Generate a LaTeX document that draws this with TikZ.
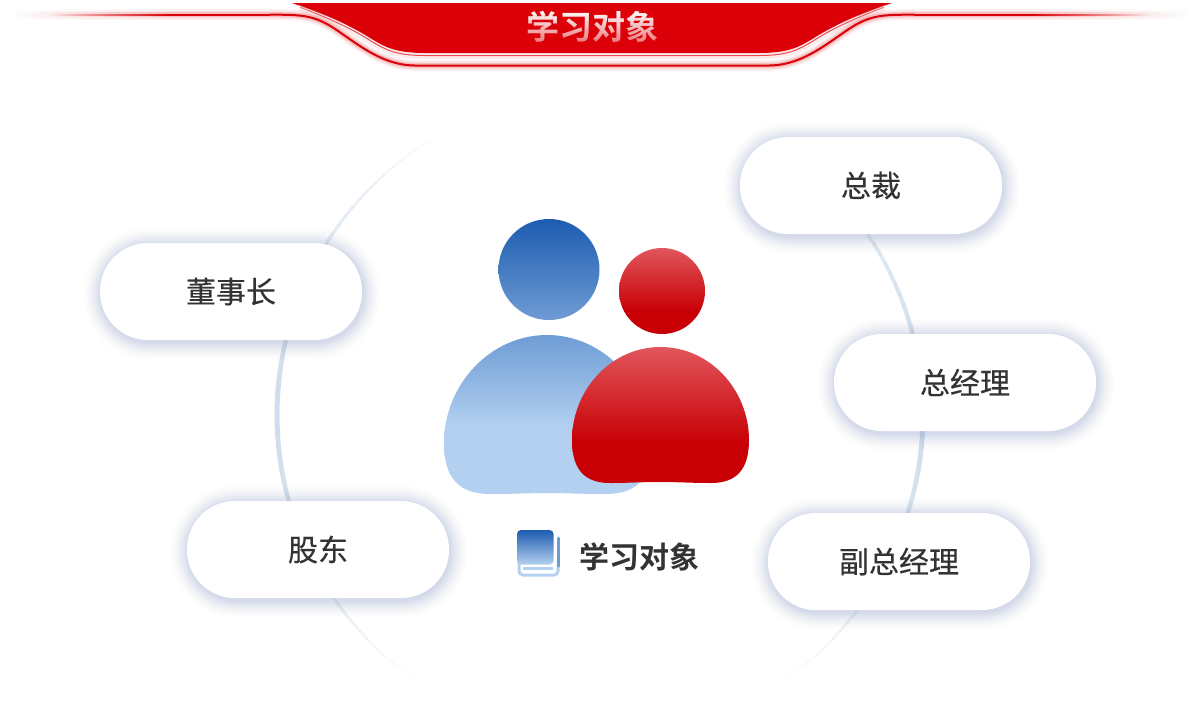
\documentclass[tikz,border=0pt]{standalone}
\usepackage{fontspec}
\usetikzlibrary{fadings}
\setmainfont[FakeBold=0.35]{Noto Sans CJK SC}
\newfontfamily\cjkb{Noto Sans CJK SC Bold}
\definecolor{hdred}{HTML}{DC0008}
\definecolor{ringc}{HTML}{CFDDEC}
\definecolor{shadowc}{HTML}{8FA5D2}
\definecolor{txtc}{HTML}{333333}
\definecolor{blA}{HTML}{1C5CB0}
\definecolor{blB}{HTML}{6F9BD4}
\definecolor{blC}{HTML}{6E9DD5}
\definecolor{blD}{HTML}{B3D0F0}
\definecolor{rdA}{HTML}{E0565C}
\definecolor{rdB}{HTML}{C80005}
\pgfdeclareverticalshading{blbody}{100bp}{color(0bp)=(blD); color(46bp)=(blD); color(75bp)=(blC); color(100bp)=(blC)}
\pgfdeclareverticalshading{rdbody}{100bp}{color(0bp)=(rdB); color(40bp)=(rdB); color(75bp)=(rdA); color(100bp)=(rdA)}
\pgfdeclareverticalshading{rdhead}{100bp}{color(0bp)=(rdB); color(38bp)=(rdB); color(75bp)=(rdA); color(100bp)=(rdA)}
\tikzfading[name=txtfade, top color=transparent!100, bottom color=transparent!45]
\tikzfading[name=fadeleft, left color=transparent!100, right color=transparent!0]
\tikzfading[name=faderight, left color=transparent!0, right color=transparent!100]
\tikzset{
  pill/.style={fill=white, rounded corners=48pt, minimum width=262pt, minimum height=97pt, inner sep=0pt, text=txtc, font=\fontsize{30}{34}\selectfont},
  caption/.style={inner sep=0pt, font=\cjkb\fontsize{30}{34}\selectfont, text=txtc},
}
\newcommand{\outerline}{(270,14.7) .. controls (295,14.7) and (308,14.7) .. (323,22) .. controls (345,32) and (375,65.5) .. (415,65.5) -- (769,65.5) .. controls (809,65.5) and (839,32) .. (861,22) .. controls (876,14.7) and (889,14.7) .. (914,14.7)}
\newcommand{\innerline}{(300,7) .. controls (328,18) and (351,28) .. (371,41) .. controls (386,50) and (396,55.5) .. (425,55.5) -- (759,55.5) .. controls (788,55.5) and (798,50) .. (813,41) .. controls (833,28) and (856,18) .. (884,7)}
\begin{document}
\begin{tikzpicture}[x=1pt,y=-1pt]
\useasboundingbox (0,0) rectangle (1200,702);
\fill[white] (0,0) rectangle (1200,702);
% ring
\foreach \a in {-56,-54,...,60}{
  \pgfmathsetmacro{\r}{\a<0 ? 56 : 62}
  \pgfmathsetmacro{\f}{max(0,1-pow(abs(\a+1)/\r,1.4))}
  \pgfmathsetmacro{\w}{1+4*\f}
  \draw[ringc, opacity=\f, line width=\w pt]
    ({600+323*cos(\a)},{415-323*sin(\a)}) -- ({600+323*cos(\a+2.1)},{415-323*sin(\a+2.1)});
  \draw[ringc, opacity=\f, line width=\w pt]
    ({600-323*cos(\a)},{415-323*sin(\a)}) -- ({600-323*cos(\a+2.1)},{415-323*sin(\a+2.1)});
}
% pill shadows
\foreach \x/\y in {871/185.5,965/382.5,899/561.5,231/291.5,318/549.5}{
  \foreach \i in {18,17,...,1}{
    \pgfmathsetmacro{\op}{0.0022*(19-\i)}
    \fill[shadowc, opacity=\op, rounded corners={(48+\i)*1pt}]
      ({\x-131-\i+1},{\y-48.5-\i+2}) rectangle ({\x+131+\i+1},{\y+48.5+\i+2});
  }
}
\node[pill] (zongcai) at (871,185.5) {总裁};
\node[pill] (zongjingli) at (965,382.5) {总经理};
\node[pill] (fuzong) at (899,561.5) {副总经理};
\node[pill] (dongshi) at (231,291.5) {董事长};
\node[pill] (gudong) at (318,549.5) {股东};
% header lines
\foreach \wd/\op in {11/0.05,8/0.08,5/0.15}{
  \fill[hdred, opacity=\op, path fading=fadeleft] (10,{14.7-\wd/2}) rectangle (170,{14.7+\wd/2});
  \fill[hdred, opacity=\op] (170,{14.7-\wd/2}) rectangle (270,{14.7+\wd/2});
  \fill[hdred, opacity=\op, path fading=faderight] (1030,{14.7-\wd/2}) rectangle (1190,{14.7+\wd/2});
  \fill[hdred, opacity=\op] (914,{14.7-\wd/2}) rectangle (1030,{14.7+\wd/2});
  \draw[hdred, opacity=\op, line width=\wd pt] \outerline;
}
\fill[hdred, path fading=fadeleft] (50,13.7) rectangle (170,15.7);
\fill[hdred] (170,13.7) rectangle (270,15.7);
\fill[hdred, path fading=faderight] (1030,13.7) rectangle (1150,15.7);
\fill[hdred] (914,13.7) rectangle (1030,15.7);
\draw[hdred, line width=2pt] \outerline;
\draw[hdred, opacity=0.08, line width=7pt] \innerline;
\draw[hdred!70, line width=1pt] \innerline;
\fill[hdred] (292,3) .. controls (325,15) and (350,25) .. (370,38) .. controls (385,47) and (395,53) .. (425,53) -- (759,53) .. controls (789,53) and (799,47) .. (814,38) .. controls (834,25) and (859,15) .. (892,3) -- cycle;
\draw[white, opacity=0.4, line width=1.6pt] (298,5.5) .. controls (315,12) and (330,17) .. (347,26);
\draw[white, opacity=0.4, line width=1.6pt] (886,5.5) .. controls (869,12) and (854,17) .. (837,26);
\node[inner sep=0pt, text=white, font=\cjkb\fontsize{33}{36}\selectfont] (title) at (592,27) {学习对象};
\fill[hdred, path fading=txtfade] (520,10) rectangle (665,44);
% persons
\shade[shading=blbody] (547,335) .. controls (490,335) and (444,385) .. (444,443) .. controls (444,477) and (458,494) .. (490,494) .. controls (515,494) and (530,493) .. (547,493) .. controls (565,493) and (580,494) .. (605,494) .. controls (640,494) and (650,477) .. (650,443) .. controls (650,385) and (604,335) .. (547,335) -- cycle;
\shade[top color=blA, bottom color=blB] (549,269.5) circle[radius=50.5];
\shade[shading=rdhead] (662,291) circle[radius=43];
\shade[shading=rdbody] (660.5,347) .. controls (611,347) and (572,390) .. (572,440) .. controls (572,470) and (585,483) .. (610,483) .. controls (630,483) and (640,482) .. (660,482) .. controls (680,482) and (690,483) .. (711,483) .. controls (736,483) and (749,470) .. (749,440) .. controls (749,390) and (710,347) .. (660.5,347) -- cycle;
% book icon
\draw[blD, line width=3pt, line cap=round, rounded corners=4pt] (558,566) -- (558,575) -- (519,575) -- (519,562);
\draw[blC, line width=3pt, line cap=round] (558,538) -- (558,566);
\draw[blD, line width=3pt, line cap=butt] (523,568.5) -- (553,568.5);
\shade[top color=blA, bottom color=blD, rounded corners=4pt] (517,530) rectangle (553.5,564.5);
\node[caption] (captiontext) at (639.5,557) {学习对象};
\end{tikzpicture}
\end{document}
